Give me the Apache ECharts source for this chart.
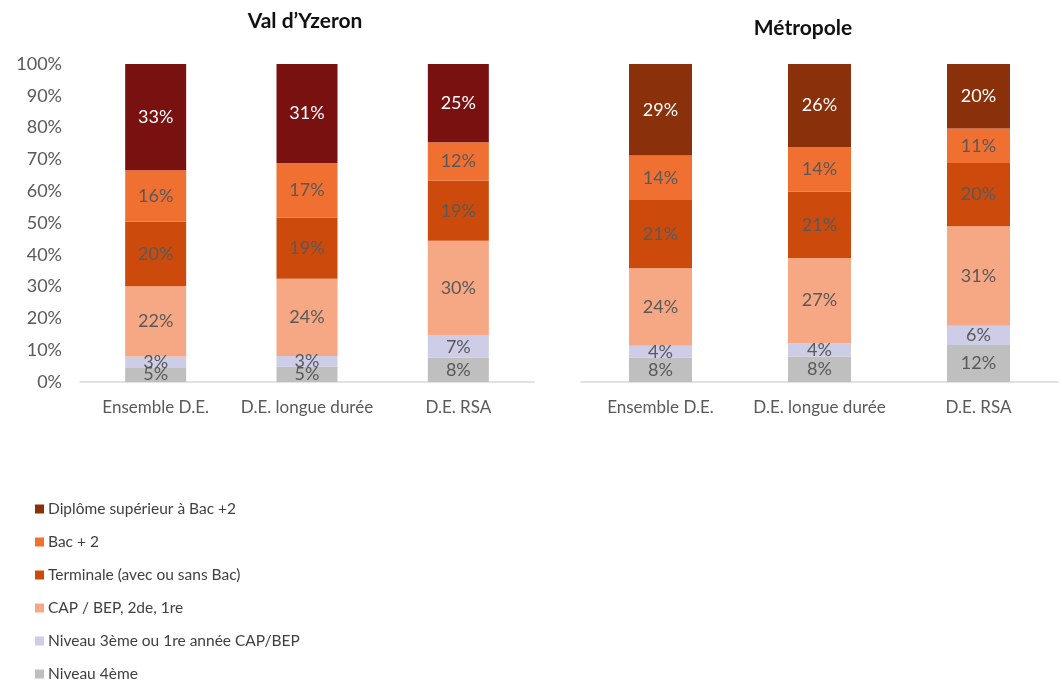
<!DOCTYPE html>
<html>
<head>
<meta charset="utf-8">
<script src="https://cdn.jsdelivr.net/npm/echarts@6/dist/echarts.min.js"></script>
<style>
  html, body { margin: 0; padding: 0; background: #ffffff; }
  #chart { width: 1062px; height: 684px; }
</style>
</head>
<body>
<div id="chart"></div>
<script>
// Publics et niveaux de formation (parts en %)
const categories = ['Ensemble D.E.', 'D.E. longue durée', 'D.E. RSA'];
const levels = [
  'Niveau 4ème',
  'Niveau 3ème ou 1re année CAP/BEP',
  'CAP / BEP, 2de, 1re',
  'Terminale (avec ou sans Bac)',
  'Bac + 2',
  'Diplôme supérieur à Bac +2'
];
const yTicks = [0, 10, 20, 30, 40, 50, 60, 70, 80, 90, 100];

// Val d'Yzeron
const niv4Yz = [4.6, 4.8, 7.6];
const niv3Yz = [3.4, 3.4, 7.0];
const capYz  = [22.1, 24.3, 29.8];
const termYz = [20.4, 19.2, 18.9];
const bac2Yz = [16.1, 17.2, 12.1];
const supYz  = [33.4, 31.1, 24.6];

// Métropole
const niv4Met = [7.6, 8.0, 11.6];
const niv3Met = [3.8, 4.2, 6.1];
const capMet  = [24.4, 26.8, 31.3];
const termMet = [21.4, 20.8, 19.9];
const bac2Met = [14.0, 14.1, 10.8];
const supMet  = [28.8, 26.1, 20.3];

const colorsYz  = ['#BFBFBF', '#CDCDE8', '#F5A883', '#CC4B0C', '#EF7031', '#7A1111'];
const colorsMet = ['#BFBFBF', '#CDCDE8', '#F5A883', '#CC4B0C', '#EF7031', '#8A300B'];
const labelColors = ['#595959', '#595959', '#595959', '#595959', '#595959', '#ffffff'];

const FONT = 'Lato';
const seriesYz  = [niv4Yz, niv3Yz, capYz, termYz, bac2Yz, supYz];
const seriesMet = [niv4Met, niv3Met, capMet, termMet, bac2Met, supMet];

function makeSeries(dataSets, colors, idx, stack) {
  return dataSets.map((d, i) => ({
    name: levels[i],
    type: 'bar',
    stack: stack,
    xAxisIndex: idx,
    yAxisIndex: idx,
    barWidth: idx === 0 ? 61 : 63,
    data: d,
    itemStyle: { color: colors[i] },
    label: {
      show: true,
      position: 'inside',
      fontFamily: FONT,
      fontSize: 18,
      color: labelColors[i],
      formatter: p => Math.round(p.value) + '%'
    },
    labelLayout: { hideOverlap: false },
    emphasis: { disabled: true }
  }));
}

const xAxisBase = {
  type: 'category',
  data: categories,
  axisTick: { show: false },
  axisLine: { lineStyle: { color: '#D9D9D9', width: 1.5 } },
  axisLabel: { interval: 0, fontFamily: FONT, fontSize: 17, color: '#595959', margin: 17 }
};
const yAxisBase = {
  type: 'value',
  min: yTicks[0],
  max: yTicks[yTicks.length - 1],
  interval: yTicks[1] - yTicks[0],
  splitLine: { show: false },
  axisLine: { show: false },
  axisTick: { show: false }
};

const chart = echarts.init(document.getElementById('chart'));
chart.setOption({
  animation: false,
  backgroundColor: '#ffffff',
  title: [
    { text: "Val d’Yzeron", left: 300, top: 6, textAlign: 'center',
      textStyle: { fontFamily: FONT, fontSize: 21, fontWeight: 'bold', color: '#111111' } },
    { text: 'Métropole', left: 798, top: 13, textAlign: 'center',
      textStyle: { fontFamily: FONT, fontSize: 21, fontWeight: 'bold', color: '#111111' } }
  ],
  grid: [
    { left: 80, top: 64, width: 454, bottom: 302 },
    { left: 581, top: 64, width: 477, bottom: 302 }
  ],
  xAxis: [
    Object.assign({ gridIndex: 0 }, xAxisBase),
    Object.assign({ gridIndex: 1 }, xAxisBase)
  ],
  yAxis: [
    Object.assign({ gridIndex: 0, axisLabel: { fontFamily: FONT, fontSize: 18, color: '#595959', margin: 18, formatter: '{value}%' } }, yAxisBase),
    Object.assign({ gridIndex: 1, axisLabel: { show: false } }, yAxisBase)
  ],
  legend: {
    orient: 'vertical',
    left: 35,
    top: 501,
    height: 183,
    padding: 0,
    itemWidth: 9,
    itemHeight: 9,
    itemGap: 17,
    icon: 'rect',
    textStyle: { fontFamily: FONT, fontSize: 15.5, lineHeight: 16, color: '#404040', padding: [0, 0, 0, -1] },
    data: levels.slice().reverse().map((n, k) => ({
      name: n,
      itemStyle: { color: colorsMet[levels.length - 1 - k] }
    }))
  },
  series: makeSeries(seriesYz, colorsYz, 0, 'yz').concat(makeSeries(seriesMet, colorsMet, 1, 'met'))
});
</script>
</body>
</html>
